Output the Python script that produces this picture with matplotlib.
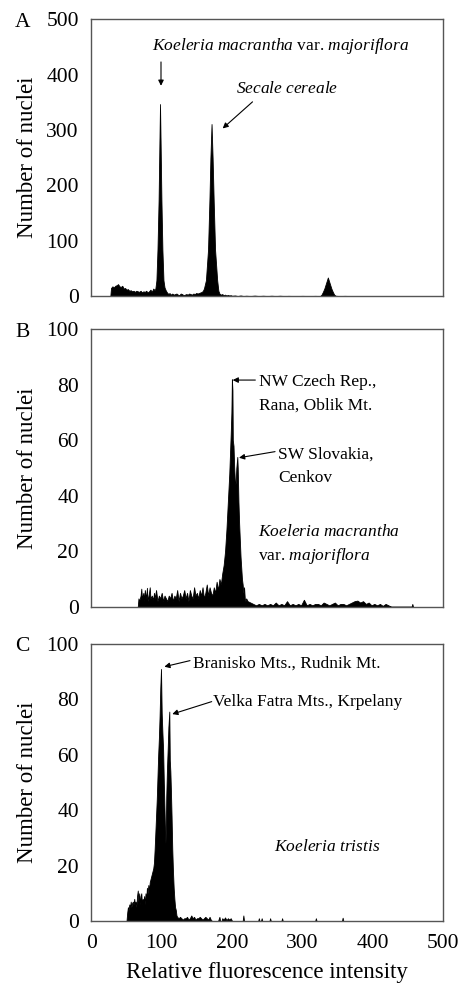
import matplotlib
matplotlib.use("Agg")
import matplotlib.pyplot as plt
import numpy as np

plt.rcParams['font.family'] = ['Liberation Serif', 'DejaVu Serif']
plt.rcParams['mathtext.fontset'] = 'custom'
plt.rcParams['mathtext.rm'] = 'Liberation Serif'
plt.rcParams['mathtext.it'] = 'Liberation Serif:italic'

# ---------------- data (channel, number of nuclei) ----------------
a_points = [
    (27, 0), (28, 15), (30, 18), (32, 16), (34, 19), (36, 20), (38, 22), (40, 18), (42, 17),
    (44, 19), (46, 14), (48, 15), (50, 12), (52, 13), (54, 10), (56, 11), (58, 9), (60, 10),
    (62, 8), (64, 10), (66, 9), (68, 8), (70, 10), (72, 7), (74, 9), (76, 8), (78, 10), (80, 7),
    (82, 9), (84, 12), (86, 8), (88, 14), (90, 11), (91, 14), (92.5, 29), (94, 84), (95.6, 174),
    (96.8, 280), (97.6, 347), (98.4, 280), (99.6, 174), (101, 84), (102.5, 29), (104, 16),
    (106, 10), (108, 6), (110, 4), (111, 6), (113, 3), (115, 5), (117, 3), (119, 4),
    (121, 5), (123, 3), (125, 2), (127, 5), (129, 4), (131, 2), (133, 3), (135, 4), (137, 3),
    (139, 5), (141, 4), (143, 3), (145, 5), (147, 4), (149, 6), (151, 5), (153, 6), (155, 7),
    (157, 8), (158.5, 10), (160, 14), (162.8, 29), (165.8, 84), (167.8, 174), (169.2, 250),
    (170.8, 311), (172.3, 250), (173.8, 174), (175.8, 84), (178.8, 29), (180.5, 10), (182, 5),
    (184, 3), (186, 4), (188, 2), (190, 3),
    (192, 1.5), (194, 2.5), (196, 1.5), (198, 2), (200, 1), (204, 1.5), (208, 0.5), (212, 1.5),
    (216, 0.5), (220, 1), (226, 0.5), (232, 1.2), (238, 0.5), (244, 1), (250, 0.5), (256, 1),
    (262, 0.5), (268, 1), (274, 0.5), (280, 0.8), (290, 0.5), (300, 0.8), (310, 0.5), (318, 0.8),
    (325, 0.5), (327, 3), (329, 8), (331, 14), (333, 22), (335, 30), (336, 34), (337, 30),
    (339, 22), (341, 14), (343, 8), (345, 3), (347, 1), (352, 0.5), (360, 0.8), (370, 0.5),
    (380, 0.5), (392, 0.6), (404, 0.4), (416, 0.5), (430, 0.4), (445, 0.4), (460, 0.3),
    (475, 0.3), (490, 0.3), (498, 0),
]

b_points = [
    (66, 0), (67, 3), (68, 2), (70, 4), (71, 6.5), (72, 3), (74, 5), (75, 2), (76, 6), (78, 3),
    (79, 6.8), (80, 2), (82, 5), (83, 7), (84, 3), (86, 4), (88, 2.5), (89, 5), (90, 3), (92, 6),
    (94, 2), (96, 4), (98, 3), (100, 5), (102, 2), (104, 4), (106, 3), (108, 2), (110, 4),
    (112, 3), (114, 5), (116, 2), (118, 4), (120, 3), (122, 6), (124, 2), (126, 5), (128, 3),
    (130, 4), (132, 6), (134, 3), (136, 5), (138, 2), (140, 6), (142, 4), (144, 3), (146, 7),
    (148, 4), (150, 5), (152, 3), (154, 6), (156, 4), (158, 7), (160, 3), (162, 5), (164, 8),
    (166, 4), (168, 7), (170, 5), (172, 4), (174, 7), (176, 5), (178, 9), (180, 6), (182, 10),
    (184, 8), (186, 12), (188, 15), (190, 20), (192, 28), (194, 38), (196, 48), (197, 55),
    (198, 62), (199, 70), (199.7, 82), (200.5, 78), (201, 60), (202, 58), (203, 50), (204, 45),
    (205, 44), (206, 50), (207.4, 54), (208, 50), (209, 38), (210, 30), (211, 24), (212, 18),
    (213, 14), (214, 10), (215, 8), (216, 5), (217, 7), (218, 3), (219, 2), (220, 3), (222, 2),
    (226, 1.5), (230, 1), (234, 0.5), (238, 1), (242, 0.5), (246, 1), (250, 0.5), (254, 1),
    (258, 0.5), (262, 1.5), (266, 0.5), (270, 1), (274, 0.5), (278, 2), (282, 0.5), (286, 1),
    (290, 0.5), (294, 1), (298, 0.5), (302, 2.5), (306, 0.5), (310, 1), (314, 0.5), (318, 1),
    (322, 1), (326, 0.5), (330, 1.5), (334, 1), (338, 0.5), (342, 1), (346, 1.5), (350, 0.5),
    (354, 1), (358, 1), (362, 0.5), (366, 1), (370, 1.5), (374, 2), (378, 2.2), (382, 1.5),
    (386, 2), (390, 1), (394, 1.5), (398, 0.5), (402, 1), (406, 0.5), (410, 1), (414, 0.3),
    (418, 1), (422, 0.5), (426, 0), (455, 0), (456, 1), (457, 0),
]

c_points = [
    (50, 0), (51, 3), (52, 5), (53, 4), (54, 6), (55, 5), (56, 7), (57, 5), (58, 6.5), (59, 7),
    (60, 6), (61, 8), (62, 6), (63, 7), (64, 5), (65, 9), (66, 11), (67, 7), (68, 10), (69, 6),
    (70, 9), (71, 10), (72, 6), (73, 8), (74, 7), (75, 9), (76, 6), (77, 10), (78, 8), (79, 12),
    (80, 10), (81, 13), (82, 11), (83, 14), (84, 15), (86, 17), (88, 19), (89, 21), (90, 26),
    (91, 32), (92, 38), (93, 44), (94, 52), (95, 60), (96, 66), (97, 74), (98, 84), (99, 91),
    (100, 75), (101, 68), (102, 62), (103, 50), (104, 40), (105, 30), (105.6, 27), (106.5, 45),
    (107.5, 55), (108.5, 62), (109.5, 70), (110.8, 75.6), (111.5, 58), (112.3, 54), (113, 48),
    (114, 38), (115, 26), (116, 18), (117, 12), (118, 8), (119, 5), (120, 4), (121, 2),
    (122, 1.5), (124, 1), (126, 1.5), (128, 1), (130, 0.5), (132, 1), (134, 1), (136, 1.5),
    (138, 0.5), (140, 1), (142, 2), (144, 1), (146, 1.5), (148, 0.5), (150, 1), (152, 1),
    (154, 1.5), (156, 1), (158, 0.5), (160, 1), (162, 1.5), (164, 1), (166, 0.5), (168, 1.5),
    (170, 0.3), (172, 0), (180, 0), (182, 1.5), (183, 0), (185, 0), (186, 1), (188, 0.5),
    (190, 1.3), (192, 0.3), (194, 1), (196, 0.5), (198, 1), (200, 0), (215, 0), (216, 2),
    (217, 0), (237, 0), (238, 1), (239, 0), (241, 0), (242, 1), (243, 0), (253, 0), (254, 1),
    (255, 0), (270, 0), (271, 1), (272, 0), (318, 0), (319, 1), (320, 0), (356, 0), (357, 1.2),
    (358, 0), (457, 0),
]

x_ticks = [0, 100, 200, 300, 400, 500]
a_yticks = [0, 100, 200, 300, 400, 500]
bc_yticks = [0, 20, 40, 60, 80, 100]
panel_labels = ['A', 'B', 'C']

# ---------------- figure ----------------
W, H = 462, 983
fig = plt.figure(figsize=(W / 100, H / 100), dpi=100)

def ax_rect(top_px, bottom_px, left_px=91.3, right_px=443.3):
    return [left_px / W, 1 - bottom_px / H, (right_px - left_px) / W, (bottom_px - top_px) / H]

axA = fig.add_axes(ax_rect(19.3, 296.3))
axB = fig.add_axes(ax_rect(329.3, 606.7))
axC = fig.add_axes(ax_rect(644.0, 921.0))

spine_color = '#555555'
tick_fs = 15.5

for ax, pts, yt, lab in [(axA, a_points, a_yticks, panel_labels[0]),
                         (axB, b_points, bc_yticks, panel_labels[1]),
                         (axC, c_points, bc_yticks, panel_labels[2])]:
    xs = np.array([p[0] for p in pts])
    ys = np.array([p[1] for p in pts])
    ax.fill_between(xs, ys, 0, color='black', linewidth=0.6, edgecolor='black')
    ax.set_xlim(0, 500)
    ax.set_ylim(0, yt[-1])
    ax.set_yticks(yt)
    ax.set_xticks(x_ticks)
    ax.tick_params(length=0, labelsize=tick_fs, pad=9)
    for s in ax.spines.values():
        s.set_color(spine_color)
        s.set_linewidth(1.0)
    ax.set_ylabel('Number of nuclei', fontsize=16.5, labelpad=6)
    ax.text(-0.195, 0.99, lab, transform=ax.transAxes, fontsize=15.5, ha='center', va='center')
    if ax is not axC:
        ax.tick_params(labelbottom=False)

axC.set_xlabel('Relative fluorescence intensity', fontsize=16.5, labelpad=7)

ann_fs = 12.5
arrow = dict(arrowstyle='-|>', color='black', lw=0.8, mutation_scale=8, shrinkA=0, shrinkB=0)

# Panel A
axA.text(269.5, 452, r'$\mathit{Koeleria\ macrantha}$ var. $\mathit{majoriflora}$',
         fontsize=ann_fs, ha='center', va='center')
axA.annotate('', xy=(99, 380), xytext=(99, 423), arrowprops=arrow)
axA.text(278.7, 375, r'$\mathit{Secale\ cereale}$', fontsize=ann_fs, ha='center', va='center')
axA.annotate('', xy=(186.6, 303), xytext=(229, 351), arrowprops=arrow)

# Panel B
axB.text(238, 81.1, 'NW Czech Rep.,', fontsize=ann_fs, ha='left', va='center')
axB.text(238, 72.5, 'Rana, Oblik Mt.', fontsize=ann_fs, ha='left', va='center')
axB.annotate('', xy=(200.8, 81.7), xytext=(233, 81.7), arrowprops=arrow)
axB.text(265.6, 54.7, 'SW Slovakia,', fontsize=ann_fs, ha='left', va='center')
axB.text(265.6, 46.3, 'Cenkov', fontsize=ann_fs, ha='left', va='center')
axB.annotate('', xy=(209.8, 53.7), xytext=(261, 55.9), arrowprops=arrow)
axB.text(236.3, 27, r'$\mathit{Koeleria\ macrantha}$', fontsize=ann_fs, ha='left', va='center')
axB.text(236.3, 18.4, r'var. $\mathit{majoriflora}$', fontsize=ann_fs, ha='left', va='center')

# Panel C
axC.text(144.9, 92.8, 'Branisko Mts., Rudnik Mt.', fontsize=ann_fs, ha='left', va='center')
axC.annotate('', xy=(103.7, 91.8), xytext=(140.2, 94), arrowprops=arrow)
axC.text(173.3, 79.2, 'Velka Fatra Mts., Krpelany', fontsize=ann_fs, ha='left', va='center')
axC.annotate('', xy=(115, 74.7), xytext=(171, 79.2), arrowprops=arrow)
axC.text(334.3, 26.8, r'$\mathit{Koeleria\ tristis}$', fontsize=ann_fs, ha='center', va='center')

fig.savefig('out.png', dpi=100)
